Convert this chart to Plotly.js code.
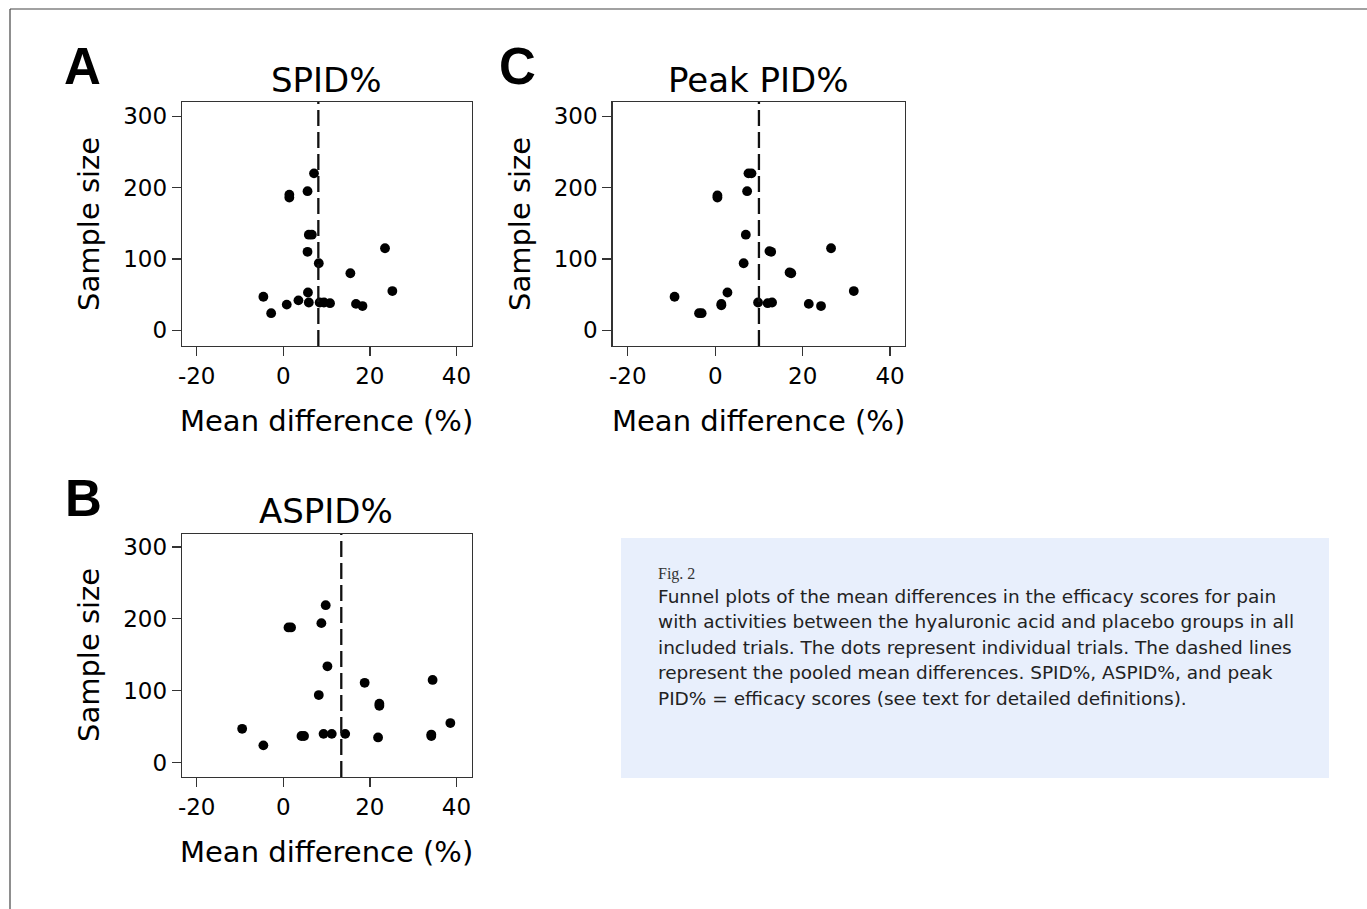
<!DOCTYPE html>
<html>
<head>
<meta charset="utf-8">
<script src="https://cdn.plot.ly/plotly-3.0.1.min.js"></script>
<style>html,body{margin:0;padding:0;background:#fff;}#chart{width:1367px;height:909px;}</style>
</head>
<body>
<div id="chart"></div>
<script>
// ---- Data ----
// Panel A: SPID%
const spidDiff = [7.1, 1.4, 1.4, 5.6, 5.9, 6.6, 5.6, 8.2, 23.5, 15.5, -4.6, -2.8, 0.8, 3.5, 5.7, 5.9, 8.4, 9.4, 10.8, 16.8, 18.3, 25.2];
const spidN    = [220, 190, 186, 195, 134, 134, 110, 94, 115, 80, 47, 24, 36, 42, 53, 39, 39, 39, 38, 37, 34, 55];
const spidPooled = 8.1;
// Panel B: ASPID%
const aspidDiff = [9.8, 8.8, 1.2, 1.8, 10.2, 18.8, 34.5, 8.2, 22.2, 22.2, -9.5, -4.6, 4.2, 4.8, 9.3, 11.2, 14.3, 21.9, 34.2, 34.2, 38.6];
const aspidN    = [219, 194, 188, 188, 134, 111, 115, 94, 82, 79, 47, 24, 37, 37, 40, 40, 40, 35, 39, 37, 55];
const aspidPooled = 13.4;
// Panel C: Peak PID%
const peakDiff = [7.6, 8.3, 0.5, 0.5, 7.3, 7.0, 12.4, 12.8, 6.5, 26.5, 17.0, 17.4, -9.3, -3.7, -3.1, 1.4, 1.4, 2.8, 9.8, 12.0, 13.0, 21.4, 24.2, 31.7];
const peakN    = [220, 220, 189, 186, 195, 134, 111, 110, 94, 115, 81, 80, 47, 24, 24, 37, 35, 53, 39, 38, 39, 37, 34, 55];
const peakPooled = 10.0;

const xTicks = [-20, 0, 20, 40];
const yTicks = [0, 100, 200, 300];
const panelLetters = ['A', 'B', 'C'];
const panelTitles = ['SPID%', 'ASPID%', 'Peak PID%'];
const xTitle = 'Mean difference (%)';
const yTitle = 'Sample size';
const captionLabel = 'Fig. 2';
const captionLines = [
  'Funnel plots of the mean differences in the efficacy scores for pain',
  'with activities between the hyaluronic acid and placebo groups in all',
  'included trials. The dots represent individual trials. The dashed lines',
  'represent the pooled mean differences. SPID%, ASPID%, and peak',
  'PID% = efficacy scores (see text for detailed definitions).'
];

// ---- Layout helpers (pixel -> paper) ----
const W = 1367, H = 909;
const px = v => v / W;
const py = v => 1 - v / H;
const FONT = 'DejaVu Sans, Liberation Sans, Arial, sans-serif';

function mk(xs, ys, xa, ya) {
  return {
    type: 'scatter', mode: 'markers', x: xs, y: ys, xaxis: xa, yaxis: ya,
    marker: {color: '#000', size: 9.8}, hoverinfo: 'x+y', cliponaxis: false
  };
}
const data = [
  mk(spidDiff, spidN, 'x', 'y'),
  mk(aspidDiff, aspidN, 'x2', 'y2'),
  mk(peakDiff, peakN, 'x3', 'y3')
];

function xax(dom, anchor, range) {
  return {
    domain: dom, anchor: anchor, range: range, tickvals: xTicks, ticktext: xTicks.map(String),
    ticks: 'outside', ticklen: 9, tickwidth: 1.3, tickcolor: '#333',
    showline: true, mirror: true, linecolor: '#333', linewidth: 1.3,
    showgrid: false, zeroline: false, fixedrange: true,
    tickfont: {family: FONT, size: 23, color: '#000'}
  };
}
function yax(dom, anchor, range) {
  return {
    domain: dom, anchor: anchor, range: range, tickvals: yTicks, ticktext: yTicks.map(String),
    ticks: 'outside', ticklen: 9, tickwidth: 1.3, tickcolor: '#333',
    showline: true, mirror: true, linecolor: '#333', linewidth: 1.3,
    showgrid: false, zeroline: false, fixedrange: true,
    tickfont: {family: FONT, size: 23, color: '#000'}
  };
}

// frames (pixels)
const fA = {l: 182, r: 472, t: 102, b: 346};
const fC = {l: 612.5, r: 904.5, t: 102, b: 346};
const fB = {l: 182, r: 472, t: 534, b: 777};

const layout = {
  width: W, height: H,
  margin: {l: 0, r: 0, t: 0, b: 0},
  paper_bgcolor: '#fff', plot_bgcolor: '#fff',
  showlegend: false,
  xaxis:  xax([px(fA.l), px(fA.r)], 'y',  [-23.4, 43.6]),
  yaxis:  yax([py(fA.b), py(fA.t)], 'x',  [-22, 320]),
  xaxis2: xax([px(fB.l), px(fB.r)], 'y2', [-23.4, 43.6]),
  yaxis2: yax([py(fB.b), py(fB.t)], 'x2', [-20, 318]),
  xaxis3: xax([px(fC.l), px(fC.r)], 'y3', [-23.5, 43.3]),
  yaxis3: yax([py(fC.b), py(fC.t)], 'x3', [-22, 320]),
  shapes: [
    // page outline (top and left)
    {type: 'line', xref: 'paper', yref: 'paper', x0: px(10), x1: 1, y0: py(9), y1: py(9), line: {color: '#444', width: 1.2}},
    {type: 'line', xref: 'paper', yref: 'paper', x0: px(10), x1: px(10), y0: py(9), y1: 0, line: {color: '#444', width: 1.2}},
    // caption box
    {type: 'rect', xref: 'paper', yref: 'paper', x0: px(621), x1: px(1329), y0: py(778), y1: py(538),
     fillcolor: '#e8effc', line: {width: 0}, layer: 'below'},
    // pooled mean difference lines
    {type: 'line', xref: 'x',  yref: 'y domain',  x0: spidPooled,  x1: spidPooled,  y0: 0, y1: 1, line: {color: '#111', width: 2.3, dash: '16px,6px'}},
    {type: 'line', xref: 'x2', yref: 'y2 domain', x0: aspidPooled, x1: aspidPooled, y0: 0, y1: 1, line: {color: '#111', width: 2.3, dash: '16px,6px'}},
    {type: 'line', xref: 'x3', yref: 'y3 domain', x0: peakPooled,  x1: peakPooled,  y0: 0, y1: 1, line: {color: '#111', width: 2.3, dash: '16px,6px'}}
  ],
  annotations: []
};

function ann(text, x, y, opts) {
  return Object.assign({
    text: text, xref: 'paper', yref: 'paper', x: px(x), y: py(y),
    xanchor: 'center', yanchor: 'middle', showarrow: false,
    font: {family: FONT, size: 29, color: '#000'}
  }, opts || {});
}
const A = layout.annotations;
// panel letters
A.push(ann('<b>' + panelLetters[0] + '</b>', 82, 67, {font: {family: 'Liberation Sans, Arial, sans-serif', size: 51, color: '#000'}}));
A.push(ann('<b>' + panelLetters[1] + '</b>', 83, 499, {font: {family: 'Liberation Sans, Arial, sans-serif', size: 51, color: '#000'}}));
A.push(ann('<b>' + panelLetters[2] + '</b>', 517, 67, {font: {family: 'Liberation Sans, Arial, sans-serif', size: 51, color: '#000'}}));
// panel titles
A.push(ann(panelTitles[0], 326, 80, {font: {family: FONT, size: 34, color: '#000'}}));
A.push(ann(panelTitles[1], 326, 511, {font: {family: FONT, size: 34, color: '#000'}}));
A.push(ann(panelTitles[2], 758, 80, {font: {family: FONT, size: 34, color: '#000'}}));
// x axis titles
A.push(ann(xTitle, 326, 421));
A.push(ann(xTitle, 326, 852));
A.push(ann(xTitle, 758, 421));
// y axis titles
A.push(ann(yTitle, 89, 224, {textangle: -90}));
A.push(ann(yTitle, 89, 655, {textangle: -90}));
A.push(ann(yTitle, 520, 224, {textangle: -90}));
// caption
A.push(ann(captionLabel, 656, 574, {xanchor: 'left', font: {family: 'Liberation Serif, Times New Roman, serif', size: 16, color: '#333'}}));
captionLines.forEach((t, i) => {
  A.push(ann(t, 656, 596 + 25.5 * i, {xanchor: 'left', align: 'left', font: {family: FONT, size: 18.5, color: '#222'}}));
});

Plotly.newPlot('chart', data, layout, {displayModeBar: false, staticPlot: true});
</script>
</body>
</html>
